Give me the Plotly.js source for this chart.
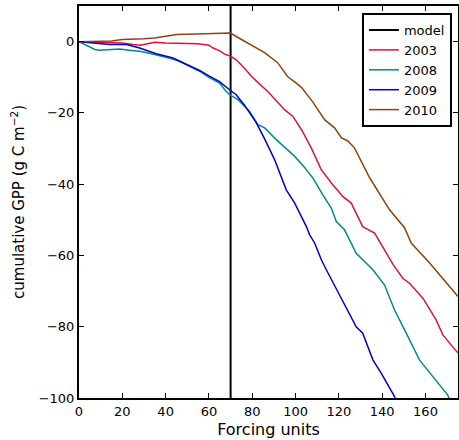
<!DOCTYPE html>
<html><head><meta charset="utf-8">
<script src="https://cdn.plot.ly/plotly-3.0.1.min.js"></script>
<style>html,body{margin:0;padding:0;background:#fff}#plot{width:459px;height:440px}</style>
</head><body><div id="plot"></div>
<script>
const modelX = [70, 70];
const modelY = [-100, 10];

const x2003 = [0,5,10,15,20,25,28,30,35,40,45,50,55,60,62,65,67.3,70,72.6,76,79.6,83,87.2,91,94.9,98.8,103,107.3,111.9,117,121.9,125.7,131,136.5,141,145,149.5,152.6,158.8,164.9,168,175];
const y2003 = [0,-0.1,-0.2,-0.2,-0.4,-0.8,-1,-0.8,-0.2,-0.4,-0.5,-0.6,-0.6,-1.0,-1.8,-2.6,-3.5,-4.1,-5.1,-7.2,-9.7,-11.7,-14,-16.5,-19.1,-21,-25,-29.9,-36,-40,-43.5,-45.3,-51.9,-53.7,-58.5,-62.5,-66.4,-67.8,-72,-78.1,-82.3,-87.4];

const x2008 = [0,3,7.3,9.5,14,18.8,23,28,33,37.2,42,46.5,51,55.7,60,64.9,67.3,69.5,73.4,78.8,82.6,85.7,91.1,95.7,99.6,104,108,112.6,116.5,118.8,122.6,128,135.7,141.1,145.7,151.1,157.2,163.4,170.3,171.5];
const y2008 = [0,-1,-2.2,-2.4,-2.2,-2.1,-2.4,-2.7,-3.3,-3.9,-4.7,-5.5,-6.8,-8.3,-10,-11.6,-13.5,-14.9,-16.3,-19.6,-23.3,-24.2,-27.5,-29.9,-32.2,-35.2,-38.3,-43,-46.7,-50.5,-52.8,-59.4,-64,-68.3,-75.3,-81.8,-89.3,-94,-99.2,-101];

const x2009 = [0,5,10,14.2,21.9,28,35.7,43.4,46.5,51,55.7,60,64.9,69.5,72.6,76.5,81.9,85.7,90.3,95.7,99.6,105,106.5,108.8,111.9,114.2,117.2,120.3,128,131,135.7,139.6,145.7,146.5];
const y2009 = [0,-0.3,-0.5,-0.8,-0.8,-1.8,-3.4,-4.6,-5.5,-6.8,-8.1,-9.6,-11.2,-13.5,-14.9,-17.9,-22.8,-27.3,-33.1,-41.6,-45.3,-51.9,-54.2,-56.5,-61.2,-64,-67.3,-71.1,-80,-81.8,-89.3,-93.1,-99.6,-101];

const x2010 = [0,5,10,15,20,25,30,35,40,45,50,55,60,65,70,73,76.5,80,85.7,91.7,96.3,100,102.8,107.9,113.4,118,121.2,124,127.2,134.2,143.4,150.3,153.4,161.9,168,175];
const y2010 = [0,0.1,0.2,0.2,0.6,0.6,0.8,1.0,1.5,2.0,2.1,2.2,2.2,2.3,2.4,1.3,0.1,-1.2,-3.1,-5.9,-9.8,-11.5,-12.9,-16.9,-21.9,-24.2,-27,-27.8,-29.8,-38.2,-47.2,-52.2,-56.5,-62.1,-66.5,-71.5];

const traces = [
  {x: modelX, y: modelY, name: 'model', mode: 'lines', line: {color: '#000000', width: 2}},
  {x: x2003, y: y2003, name: '2003', mode: 'lines', line: {color: '#DC143C', width: 1.5}},
  {x: x2008, y: y2008, name: '2008', mode: 'lines', line: {color: '#008B8B', width: 1.5}},
  {x: x2009, y: y2009, name: '2009', mode: 'lines', line: {color: '#0000CD', width: 1.5}},
  {x: x2010, y: y2010, name: '2010', mode: 'lines', line: {color: '#8B4513', width: 1.5}}
];

const axisCommon = {
  showline: true, linecolor: '#000', linewidth: 2, mirror: 'allticks',
  ticks: 'inside', ticklen: 5, tickwidth: 1, tickcolor: '#000',
  showgrid: false, zeroline: false,
  tickfont: {family: 'DejaVu Sans', size: 13, color: '#000'}
};

const layout = {
  width: 459, height: 440,
  margin: {l: 79, r: 1, t: 6, b: 42},
  paper_bgcolor: '#fff', plot_bgcolor: '#fff',
  font: {family: 'DejaVu Sans', color: '#000'},
  xaxis: Object.assign({}, axisCommon, {
    range: [0, 175], dtick: 20, tick0: 0,
    title: {text: 'Forcing units', font: {size: 16, family: 'DejaVu Sans'}, standoff: 6}
  }),
  yaxis: Object.assign({}, axisCommon, {
    range: [-100, 10], dtick: 20, tick0: 0,
    title: {text: 'cumulative GPP (g C m<sup>\u22122</sup>)', font: {size: 15, family: 'DejaVu Sans'}, standoff: 10}
  }),
  showlegend: true,
  legend: {
    x: 0.984, xanchor: 'right', y: 0.982, yanchor: 'top',
    bgcolor: '#fff', bordercolor: '#000', borderwidth: 2,
    font: {family: 'DejaVu Sans', size: 13, color: '#000'},
    itemwidth: 30
  }
};

Plotly.newPlot('plot', traces, layout, {displayModeBar: false, staticPlot: true});
</script></body></html>
